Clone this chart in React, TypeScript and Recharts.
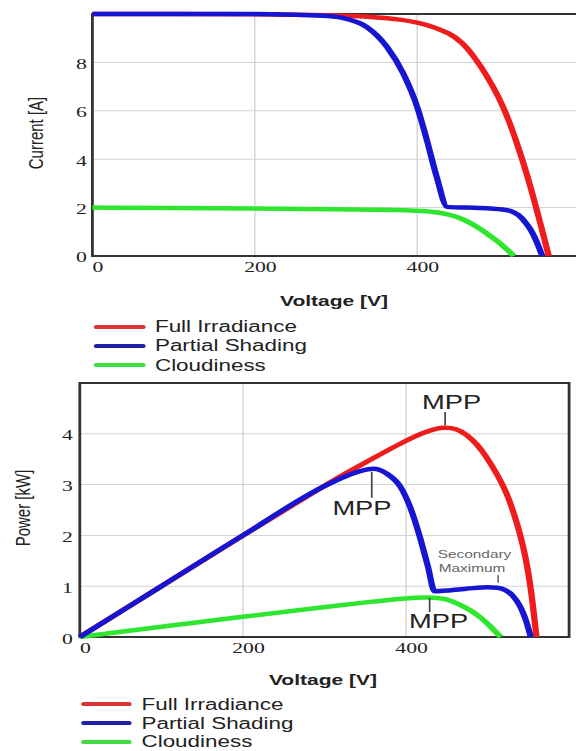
import { LineChart, Line, XAxis, YAxis, CartesianGrid, ReferenceArea, ReferenceLine, ReferenceDot } from "recharts";

// I-V curves (voltage in V, current in A)
const fullV = [0, 100, 200, 300, 350, 380, 400, 420, 440, 455, 470, 485, 500, 512, 524, 535, 545, 554, 562];
const fullI = [10, 10, 10, 9.95, 9.87, 9.77, 9.65, 9.47, 9.2, 8.85, 8.25, 7.5, 6.6, 5.7, 4.55, 3.4, 2.2, 1.05, 0];
const shadeV = [0, 100, 200, 250, 290, 313, 338, 363, 383, 400, 412, 424, 437, 460, 490, 505, 515, 525, 533, 540, 547, 554];
const shadeI = [10, 10, 10, 9.97, 9.92, 9.8, 9.46, 8.63, 7.53, 6.16, 4.78, 3.27, 2.03, 2.0, 1.96, 1.92, 1.86, 1.68, 1.4, 1.07, 0.6, 0];
const cloudV = [0, 100, 200, 300, 380, 416, 440, 457, 472, 486, 497, 507, 519];
const cloudI = [2.0, 1.98, 1.96, 1.94, 1.9, 1.85, 1.72, 1.52, 1.25, 0.93, 0.66, 0.38, 0];

// P-V curves (voltage in V, power in kW)
const fullPV = [0, 100, 200, 300, 327, 360, 401, 425, 446, 462, 474, 487, 499, 512, 524, 532, 540, 547, 553, 560];
const fullP = [0, 1.0, 2.0, 2.98, 3.23, 3.52, 3.88, 4.05, 4.14, 4.1, 3.99, 3.8, 3.54, 3.2, 2.82, 2.45, 2.03, 1.55, 1.0, 0];
const shadePV = [0, 100, 200, 300, 327, 345, 360, 376, 393, 405, 417, 427, 435, 474, 500, 512, 522, 531, 540, 547, 553];
const shadeP = [0, 1.0, 2.0, 2.97, 3.17, 3.27, 3.31, 3.22, 2.96, 2.56, 1.97, 1.38, 0.9, 0.95, 0.98, 0.97, 0.92, 0.81, 0.6, 0.33, 0];
const cloudPV = [0, 100, 200, 300, 360, 395, 429, 450, 466, 480, 492, 503, 516];
const cloudP = [0, 0.2, 0.4, 0.59, 0.7, 0.76, 0.79, 0.75, 0.64, 0.52, 0.38, 0.22, 0];

const voltTicks = [0, 200, 400];
const currentTicks = [0, 2, 4, 6, 8];
const powerTicks = [0, 1, 2, 3, 4];

const seriesNames = ["Full Irradiance", "Partial Shading", "Cloudiness"];

// MPP markers: leader x, leader y range, label position (data units)
const mppNotes = [
  { x: 448, y0: 4.17, y1: 4.43, tx: 456, ty: 4.63 },
  { x: 358, y0: 3.25, y1: 2.74, tx: 346, ty: 2.53 },
  { x: 429, y0: 0.77, y1: 0.49, tx: 440, ty: 0.31 },
];
const secondaryNote = { x: 513, y0: 1.07, y1: 1.22, lines: ["Secondary", "Maximum"], tx: [484, 481], ty: [1.63, 1.36] };

const RED = "#ee1c1c";
const BLUE = "#1515d2";
const GREEN = "#2ee62e";
const legendColors = ["#dd3333", "#2020a8", "#40dd40"];

const SANS = "'Liberation Sans', Arial, sans-serif";
const SERIF = "'Liberation Serif', 'Times New Roman', serif";

const toPts = (xs: number[], ys: number[]) => xs.map((v, k) => ({ v, y: ys[k] }));

const XTick = ({ x, y, payload }: any) => (
  <text x={x + 4} y={y} dy="0.72em" textAnchor="middle" fontSize={15.5} fontFamily={SERIF} fill="#222">
    {payload.value}
  </text>
);

const YTick = ({ x, y, payload }: any) => (
  <text x={x} y={y} dy="0.42em" textAnchor="end" fontSize={15.5} fontFamily={SERIF} fill="#222">
    {payload.value}
  </text>
);

const NoteText = ({ viewBox, text, size, color }: any) => {
  const cx = viewBox.x + (viewBox.width || 0) / 2;
  const cy = viewBox.y + (viewBox.height || 0) / 2;
  return (
    <text x={cx} y={cy} dy="0.36em" textAnchor="middle" fontSize={size} fontFamily={SANS} fill={color}>
      {text}
    </text>
  );
};

const Legend = ({ top, left, lineW, gap, rowH }: { top: number; left: number; lineW: number; gap: number; rowH: number }) => (
  <div style={{ position: "absolute", top, left }}>
    {seriesNames.map((name, k) => (
      <div key={name} style={{ display: "flex", alignItems: "center", height: rowH }}>
        <div style={{ width: lineW, height: 4, background: legendColors[k], borderRadius: 2 }} />
        <span style={{ marginLeft: gap, fontFamily: SANS, fontSize: 16, lineHeight: "13px", color: "#222", whiteSpace: "nowrap" }}>{name}</span>
      </div>
    ))}
  </div>
);

const Title = ({ x, y, text, rotate, bold }: { x: number; y: number; text: string; rotate?: boolean; bold?: boolean }) => (
  <div
    style={{
      position: "absolute", left: x, top: y, whiteSpace: "nowrap",
      transform: `translate(-50%, -50%)${rotate ? " rotate(-90deg)" : ""}`,
      fontFamily: SANS, fontSize: 15, color: "#222", fontWeight: bold ? "bold" : "normal",
    }}
  >
    {text}
  </div>
);

const App = () => {
  const frame = { fill: "none", stroke: "#333", strokeWidth: 2 };
  const lw = 4.5;
  return (
    <div style={{ position: "absolute", left: 0, top: 0, width: 576, height: 751, overflow: "hidden", background: "#fff" }}>
      {/* the source figure is stretched horizontally, so draw narrow and scale */}
      <div style={{ position: "absolute", left: 0, top: 0, width: 420, height: 751, transform: "scaleX(1.4)", transformOrigin: "0 0" }}>
        <div style={{ position: "absolute", left: 0, top: 0 }}>
          <LineChart width={416} height={286} margin={{ top: 14, right: 2, bottom: 0, left: 0 }}>
            <CartesianGrid stroke="#d4d4d4" strokeWidth={1} />
            <ReferenceArea x1={0} x2={600} y1={0} y2={10} {...frame} />
            <XAxis type="number" dataKey="v" domain={[0, 600]} ticks={voltTicks} axisLine={false} tickLine={false} tickSize={0} tickMargin={5} height={30} tick={<XTick />} />
            <YAxis type="number" domain={[0, 10]} ticks={currentTicks} axisLine={false} tickLine={false} tickSize={0} tickMargin={4} width={66} tick={<YTick />} />
            <Line data={toPts(fullV, fullI)} dataKey="y" type="basis" stroke={RED} strokeWidth={lw} dot={false} isAnimationActive={false} />
            <Line data={toPts(cloudV, cloudI)} dataKey="y" type="basis" stroke={GREEN} strokeWidth={lw} dot={false} isAnimationActive={false} />
            <Line data={toPts(shadeV, shadeI)} dataKey="y" type="monotone" stroke={BLUE} strokeWidth={lw} dot={false} isAnimationActive={false} />
          </LineChart>
        </div>
        <Title x={25} y={133} text="Current [A]" rotate />
        <Title x={238.6} y={300} text="Voltage [V]" bold />
        <Legend top={317} left={66.7} lineW={37} gap={7} rowH={19.3} />

        <div style={{ position: "absolute", left: 0, top: 369 }}>
          <LineChart width={410} height={298} margin={{ top: 14, right: 3.5, bottom: 0, left: 0 }}>
            <CartesianGrid stroke="#d4d4d4" strokeWidth={1} />
            <ReferenceArea x1={0} x2={600} y1={0} y2={5} {...frame} />
            <XAxis type="number" dataKey="v" domain={[0, 600]} ticks={voltTicks} axisLine={false} tickLine={false} tickSize={0} tickMargin={5} height={30} tick={<XTick />} />
            <YAxis type="number" domain={[0, 5]} ticks={powerTicks} axisLine={false} tickLine={false} tickSize={0} tickMargin={5} width={57} tick={<YTick />} />
            <Line data={toPts(fullPV, fullP)} dataKey="y" type="basis" stroke={RED} strokeWidth={lw} dot={false} isAnimationActive={false} />
            <Line data={toPts(cloudPV, cloudP)} dataKey="y" type="basis" stroke={GREEN} strokeWidth={lw} dot={false} isAnimationActive={false} />
            <Line data={toPts(shadePV, shadeP)} dataKey="y" type="monotone" stroke={BLUE} strokeWidth={lw} dot={false} isAnimationActive={false} />
            {mppNotes.map((n, k) => (
              <ReferenceLine key={`l${k}`} segment={[{ x: n.x, y: n.y0 }, { x: n.x, y: n.y1 }]} stroke="#444" strokeWidth={1.2} />
            ))}
            {mppNotes.map((n, k) => (
              <ReferenceDot key={`t${k}`} x={n.tx} y={n.ty} r={1} fill="none" stroke="none"
                label={<NoteText text="MPP" size={19.5} color="#222" />} />
            ))}
            <ReferenceLine segment={[{ x: secondaryNote.x, y: secondaryNote.y0 }, { x: secondaryNote.x, y: secondaryNote.y1 }]} stroke="#555" strokeWidth={1} />
            {secondaryNote.lines.map((t, k) => (
              <ReferenceDot key={t} x={secondaryNote.tx[k]} y={secondaryNote.ty[k]} r={1} fill="none" stroke="none"
                label={<NoteText text={t} size={11} color="#666" />} />
            ))}
          </LineChart>
        </div>
        <Title x={15.7} y={508} text="Power [kW]" rotate />
        <Title x={230.7} y={679} text="Voltage [V]" bold />
        <Legend top={695} left={58.4} lineW={35.7} gap={7} rowH={18.8} />
      </div>
    </div>
  );
};

export default App;
